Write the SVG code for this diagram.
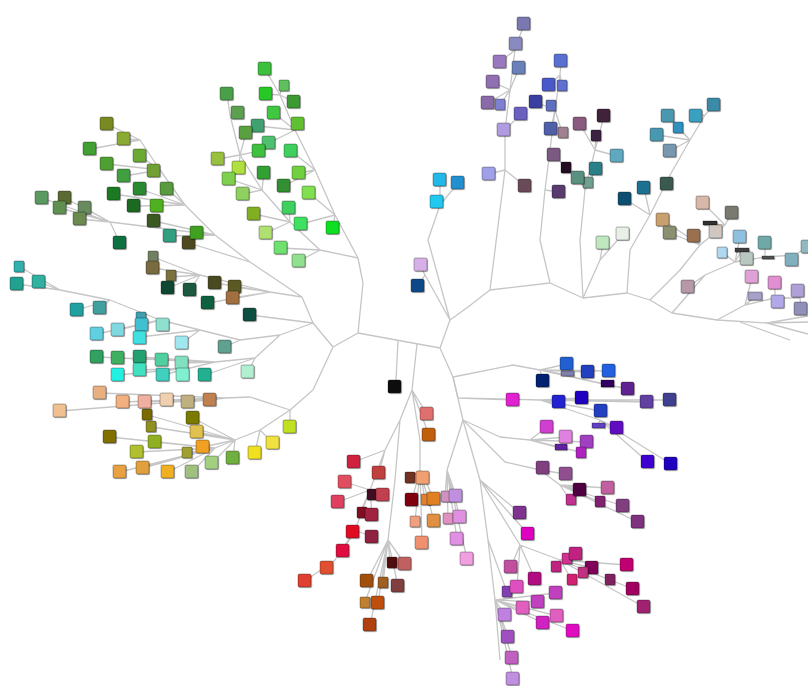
<svg xmlns="http://www.w3.org/2000/svg" xmlns:xlink="http://www.w3.org/1999/xlink" width="808" height="686" viewBox="0 0 808 686">
<style>
.c path{fill:none;stroke:#c6c6c6;stroke-width:1.3;stroke-linejoin:round}
.n use,.n rect{stroke:#000;stroke-opacity:.3;stroke-width:1;filter:url(#sh)}
</style>
<defs>
<filter id="sh" x="-30%" y="-30%" width="160%" height="160%"><feDropShadow dx="1" dy="1" stdDeviation="0.7" flood-opacity="0.3"/></filter>
<rect id="q" width="13" height="13" rx="1.5"/>
<rect id="p" width="10" height="11" rx="1"/>
</defs>
<rect width="808" height="686" fill="#fff"/>
<g id="connectors" class="c">
<path d="M358,333L440,348M358,333L363,283L358,258M358,258L335,215L315,170L295,130L280,95M358,258L320,250L290,222L262,190L240,155L230,115M358,333L333,347L313,323L302,297M333,347L313,390M302,297L250,262L215,235L185,205L160,170L140,140M215,235L110,222M302,297L270,292L200,275M313,323L280,335L240,340L200,330L160,320L110,300L60,290M280,335L255,358L215,362L190,368M313,390L290,410L250,397L225,398M290,410L260,430L235,440L215,448M440,348L450,320L468,307L490,290L550,283L583,298L627,293L650,300L672,313L717,320L767,323M490,290L495,250L500,210L505,170L505,130L510,90L515,50M550,283L540,240L545,190L550,150L555,110L560,75M583,298L580,240L585,190L595,150M440,348L453,377L463,420L480,480L488,540L495,600L500,660"/>
<path d="M280,95L265,69M280,95L266,94M280,95L282,85M280,95L294,102M230,115L227,94M230,115L238,113M295,130L274,113M295,130L258,126M295,130L298,124M295,130L269,143M240,155L246,133M240,155L259,151M240,155L218,159M240,155L239,168M315,170L291,151M315,170L299,173M315,170L284,186M262,190L264,173M262,190L229,179M262,190L243,194M335,215L309,193M335,215L301,224M335,215L333,228M290,222L289,208M290,222L254,214M290,222L266,233M320,250L281,248M320,250L299,261"/>
<path d="M140,140L107,124M140,140L124,139M140,140L90,149M160,170L140,156M160,170L107,164M160,170L124,176M160,170L154,171M185,205L114,194M185,205L140,189M185,205L167,189M185,205L134,206M185,205L157,206M110,222L42,198M110,222L65,198M110,222L60,208M110,222L85,208M110,222L80,219M110,222L120,243M215,235L154,221M215,235L170,236M215,235L197,233M250,262L189,243"/>
<path d="M200,275L153,257M200,275L153,268M200,275L170,277M200,275L168,288M200,275L190,290M270,292L215,283M270,292L235,287M270,292L233,298M270,292L208,303M313,323L250,315"/>
<path d="M60,290L20,267M60,290L17,284M60,290L39,282M110,300L77,310M110,300L100,308M160,320L97,334M160,320L118,330M160,320L142,325M160,320L163,325M200,330L140,337M200,330L182,343M240,340L225,347M215,362L97,357M215,362L118,358M215,362L140,357M215,362L162,360M215,362L182,363M190,368L118,375M190,368L140,370M190,368L163,375M190,368L183,375M255,358L205,375M255,358L248,372"/>
<path d="M225,398L100,393M225,398L60,411M225,398L123,402M225,398L145,402M225,398L167,400M225,398L188,402M225,398L210,400M290,410L290,427M260,430L273,443M260,430L255,453M235,440L233,458M235,440L212,463M235,440L197,432M235,440L203,447M235,440L148,415M235,440L193,418M235,440L152,427M215,448L192,472M215,448L168,472M215,448L143,468M215,448L120,472M215,448L187,453M215,448L137,452M215,448L155,442M215,448L110,437"/>
<path d="M515,50L524,24M515,50L516,44M515,50L500,62M510,90L519,68M510,90L493,82M510,90L488,103M510,90L500,105M505,130L521,114M505,130L504,130M505,170L489,174M505,170L525,186M560,75L561,61M560,75L549,85M560,75L562,85M555,110L536,102M555,110L550,105M555,110L551,129M555,110L562,132M550,150L554,155M550,150L566,168M545,190L559,192M595,150L580,124M595,150L604,116M595,150L596,136M595,150L617,156M585,190L578,178M585,190L588,183M585,190L596,169"/>
<path d="M450,320L428,240L440,205M440,205L440,180M440,205L458,183M440,205L437,202M450,320L425,275M425,275L420,265M425,275L418,286"/>
<path d="M627,293L630,250L650,215L670,175L690,140L705,115M705,115L714,105M705,115L696,116M690,140L668,116M690,140L678,128M690,140L657,135M690,140L670,151M670,175L667,184M650,215L644,188M650,215L625,199M583,298L600,260M600,260L603,243M600,260L623,234"/>
<path d="M650,300L680,270L700,245L725,225M700,245L694,236M700,245L716,232M700,245L670,233M700,245L663,220M725,225L703,203M725,225L732,213M725,225L710,224M672,313L705,275L735,262L765,257L795,255M705,275L688,287M735,262L740,237M735,262L723,253M735,262L742,250M735,262L747,259M765,257L765,243M765,257L768,257M795,255L792,260M795,255L807,247M717,320L745,305L775,298L800,298M745,305L752,277M745,305L755,297M775,298L775,283M775,298L778,302M800,298L798,291M800,298L801,308M767,323L808,316M767,323L808,322M767,323L808,334M740,322L790,340"/>
<path d="M453,377L513,365L540,370M540,370L567,364M540,370L567,375M540,370L588,372M540,370L609,371M540,370L543,381M540,370L608,385M540,370L628,389M453,377L458,398L540,400L600,420M458,398L513,400M540,400L559,402M540,400L582,398M540,400L601,411M540,400L647,402M540,400L670,400M600,420L617,428M600,420L597,427M600,420L648,462M600,420L671,464M463,420L500,437L530,440M530,440L547,427M530,440L566,437M530,440L587,442M530,440L560,448M530,440L580,452M463,420L505,462L540,470L560,485M540,470L543,468M540,470L566,474M560,485L580,490M560,485L570,500M560,485L600,502M560,485L608,488M560,485L623,506M560,485L638,522M480,480L520,513M480,480L528,534M480,480L520,545L560,560M560,560L556,567M560,560L567,559M560,560L576,554M560,560L592,568M560,560L572,580M560,560L583,573M560,560L610,580M560,560L627,565M560,560L633,589M560,560L644,607M520,545L511,567M520,545L535,579M520,545L517,587M488,540L507,592M495,600L505,615M495,600L508,637M495,600L512,658M495,600L513,679M495,600L523,608M495,600L538,602M495,600L556,593M495,600L543,623M495,600L557,616M495,600L573,631"/>
<path d="M417,344L412,390L400,420L385,450L370,490L355,530L335,560M398,341L396,380M412,390L427,414M412,390L429,435M385,450L354,462M385,450L379,473M370,490L345,482M370,490L338,502M370,490L370,495M370,490L383,495M370,490L360,513M370,490L372,515M355,530L353,532M355,530L372,537M355,530L343,551M335,560L327,568M335,560L305,581M412,390L420,440L420,470M420,470L410,478M420,470L423,478M420,470L412,500M420,470L425,500M420,470L434,499M420,470L415,522M420,470L434,521M420,470L422,543M463,420L447,470M447,470L445,497M447,470L456,496M447,470L448,519M447,470L460,517M447,470L457,539M447,470L467,559M400,420L395,480L388,540M388,540L390,563M388,540L405,564M388,540L367,581M388,540L383,583M388,540L398,586M388,540L365,602M388,540L378,603M388,540L370,625"/>
</g>
<g id="nodes" class="n">
<g id="bg1"><use href="#q" x="258" y="62" fill="#3cc03c"/></g>
<g id="bg2"><use href="#p" x="279" y="80" fill="#60c060"/></g>
<g id="bg3"><use href="#q" x="220" y="87" fill="#4aa04a"/></g>
<g id="bg4"><use href="#q" x="259" y="87" fill="#28c828"/></g>
<g id="bg5"><use href="#q" x="287" y="95" fill="#3a9a30"/></g>
<g id="bg6"><use href="#q" x="231" y="106" fill="#5aa050"/></g>
<g id="bg7"><use href="#q" x="267" y="106" fill="#40c840"/></g>
<g id="bg8"><use href="#q" x="251" y="119" fill="#40a070"/></g>
<g id="bg9"><use href="#q" x="291" y="117" fill="#60c030"/></g>
<g id="bg10"><use href="#q" x="239" y="126" fill="#5aa040"/></g>
<g id="bg11"><use href="#q" x="262" y="136" fill="#50c070"/></g>
<g id="bg12"><use href="#q" x="252" y="144" fill="#40c040"/></g>
<g id="bg13"><use href="#q" x="284" y="144" fill="#40d060"/></g>
<g id="bg14"><use href="#q" x="211" y="152" fill="#9ac040"/></g>
<g id="bg15"><use href="#q" x="232" y="161" fill="#b0e040"/></g>
<g id="bg16"><use href="#q" x="257" y="166" fill="#30a030"/></g>
<g id="bg17"><use href="#q" x="292" y="166" fill="#70d040"/></g>
<g id="bg18"><use href="#q" x="222" y="172" fill="#80d050"/></g>
<g id="bg19"><use href="#q" x="277" y="179" fill="#309030"/></g>
<g id="bg20"><use href="#q" x="236" y="187" fill="#90d060"/></g>
<g id="bg21"><use href="#q" x="302" y="186" fill="#80e050"/></g>
<g id="bg22"><use href="#q" x="282" y="201" fill="#40d060"/></g>
<g id="bg23"><use href="#q" x="247" y="207" fill="#80b020"/></g>
<g id="bg24"><use href="#q" x="294" y="217" fill="#40e060"/></g>
<g id="bg25"><use href="#q" x="326" y="221" fill="#10e020"/></g>
<g id="bg26"><use href="#q" x="259" y="226" fill="#b0e070"/></g>
<g id="bg27"><use href="#q" x="274" y="241" fill="#70e070"/></g>
<g id="bg28"><use href="#q" x="292" y="254" fill="#90e090"/></g>
<g id="dg1"><use href="#q" x="100" y="117" fill="#7a8a20"/></g>
<g id="dg2"><use href="#q" x="117" y="132" fill="#8aaa30"/></g>
<g id="dg3"><use href="#q" x="83" y="142" fill="#40a030"/></g>
<g id="dg4"><use href="#q" x="133" y="149" fill="#6aaa30"/></g>
<g id="dg5"><use href="#q" x="100" y="157" fill="#50a030"/></g>
<g id="dg6"><use href="#q" x="117" y="169" fill="#40a040"/></g>
<g id="dg7"><use href="#q" x="147" y="164" fill="#70a030"/></g>
<g id="dg8"><use href="#q" x="107" y="187" fill="#1a7a20"/></g>
<g id="dg9"><use href="#q" x="133" y="182" fill="#2a8a30"/></g>
<g id="dg10"><use href="#q" x="160" y="182" fill="#5a9a40"/></g>
<g id="dg11"><use href="#q" x="127" y="199" fill="#1a6a20"/></g>
<g id="dg12"><use href="#q" x="150" y="199" fill="#50b020"/></g>
<g id="dg13"><use href="#q" x="35" y="191" fill="#5a9a60"/></g>
<g id="dg14"><use href="#q" x="58" y="191" fill="#5a6a30"/></g>
<g id="dg15"><use href="#q" x="53" y="201" fill="#609050"/></g>
<g id="dg16"><use href="#q" x="78" y="201" fill="#6a8a60"/></g>
<g id="dg17"><use href="#q" x="73" y="212" fill="#6a8a50"/></g>
<g id="dg18"><use href="#q" x="147" y="214" fill="#3a5a20"/></g>
<g id="dg19"><use href="#q" x="163" y="229" fill="#30a080"/></g>
<g id="dg20"><use href="#q" x="182" y="236" fill="#504a20"/></g>
<g id="dg21"><use href="#q" x="190" y="226" fill="#40a020"/></g>
<g id="dg22"><use href="#q" x="113" y="236" fill="#107040"/></g>
<g id="ol1"><use href="#p" x="148" y="251" fill="#708060"/></g>
<g id="ol2"><use href="#q" x="146" y="261" fill="#7a6a40"/></g>
<g id="ol3"><use href="#p" x="166" y="270" fill="#7a7040"/></g>
<g id="ol4"><use href="#q" x="161" y="281" fill="#104a30"/></g>
<g id="ol5"><use href="#q" x="183" y="283" fill="#1a5a40"/></g>
<g id="ol6"><use href="#q" x="208" y="276" fill="#4a4a20"/></g>
<g id="ol7"><use href="#q" x="228" y="280" fill="#5a5a20"/></g>
<g id="ol8"><use href="#q" x="226" y="291" fill="#a07040"/></g>
<g id="ol9"><use href="#q" x="201" y="296" fill="#106040"/></g>
<g id="ol10"><use href="#q" x="243" y="308" fill="#105040"/></g>
<g id="t1"><use href="#p" x="14" y="261" fill="#30b0b0"/></g>
<g id="t2"><use href="#q" x="10" y="277" fill="#20a090"/></g>
<g id="t3"><use href="#q" x="32" y="275" fill="#30b0a0"/></g>
<g id="t4"><use href="#q" x="70" y="303" fill="#20a0a0"/></g>
<g id="t5"><use href="#q" x="93" y="301" fill="#40a0a0"/></g>
<g id="t6"><use href="#q" x="90" y="327" fill="#60d0e0"/></g>
<g id="t7"><use href="#q" x="111" y="323" fill="#80d8e0"/></g>
<g id="t8"><use href="#p" x="136" y="312" fill="#40a0b0"/></g>
<g id="t9"><use href="#q" x="135" y="318" fill="#40c0d0"/></g>
<g id="t10"><use href="#q" x="156" y="318" fill="#90e0d0"/></g>
<g id="t11"><use href="#q" x="133" y="331" fill="#40e0e0"/></g>
<g id="t12"><use href="#q" x="175" y="336" fill="#a0e8f0"/></g>
<g id="t13"><use href="#q" x="218" y="340" fill="#60a090"/></g>
<g id="t14"><use href="#q" x="90" y="350" fill="#30a060"/></g>
<g id="t15"><use href="#q" x="111" y="351" fill="#40b060"/></g>
<g id="t16"><use href="#q" x="133" y="350" fill="#20a070"/></g>
<g id="t17"><use href="#q" x="155" y="353" fill="#50d0a0"/></g>
<g id="t18"><use href="#q" x="175" y="356" fill="#80e0c0"/></g>
<g id="t19"><use href="#q" x="111" y="368" fill="#20f0e0"/></g>
<g id="t20"><use href="#q" x="133" y="363" fill="#40e0c0"/></g>
<g id="t21"><use href="#q" x="156" y="368" fill="#40d0c0"/></g>
<g id="t22"><use href="#q" x="176" y="368" fill="#80f0d0"/></g>
<g id="t23"><use href="#q" x="198" y="368" fill="#20b090"/></g>
<g id="t24"><use href="#q" x="241" y="365" fill="#b0f0d0"/></g>
<g id="o1"><use href="#q" x="93" y="386" fill="#e8b080"/></g>
<g id="o2"><use href="#q" x="53" y="404" fill="#f0c090"/></g>
<g id="o3"><use href="#q" x="116" y="395" fill="#f0b080"/></g>
<g id="o4"><use href="#q" x="138" y="395" fill="#f0b0a0"/></g>
<g id="o5"><use href="#q" x="160" y="393" fill="#f0d0b0"/></g>
<g id="o6"><use href="#q" x="181" y="395" fill="#c0b080"/></g>
<g id="o7"><use href="#q" x="203" y="393" fill="#c08050"/></g>
<g id="o8"><use href="#p" x="142" y="409" fill="#7a6a00"/></g>
<g id="o9"><use href="#q" x="186" y="411" fill="#7a7a00"/></g>
<g id="o10"><use href="#p" x="146" y="421" fill="#909020"/></g>
<g id="o11"><use href="#q" x="103" y="430" fill="#807000"/></g>
<g id="o12"><use href="#q" x="148" y="435" fill="#90b020"/></g>
<g id="o13"><use href="#q" x="190" y="425" fill="#e0c050"/></g>
<g id="o14"><use href="#q" x="130" y="445" fill="#b0c030"/></g>
<g id="o15"><use href="#p" x="182" y="447" fill="#a0a030"/></g>
<g id="o16"><use href="#q" x="196" y="440" fill="#f0a020"/></g>
<g id="o17"><use href="#q" x="226" y="451" fill="#70b040"/></g>
<g id="o18"><use href="#q" x="248" y="446" fill="#f0e020"/></g>
<g id="o19"><use href="#q" x="205" y="456" fill="#a0d080"/></g>
<g id="o20"><use href="#q" x="113" y="465" fill="#e8a040"/></g>
<g id="o21"><use href="#q" x="136" y="461" fill="#e0a040"/></g>
<g id="o22"><use href="#q" x="161" y="465" fill="#f0b020"/></g>
<g id="o23"><use href="#q" x="185" y="465" fill="#a0c080"/></g>
<g id="o24"><use href="#q" x="266" y="436" fill="#f0e040"/></g>
<g id="o25"><use href="#q" x="283" y="420" fill="#c0e020"/></g>
<g id="pt1"><use href="#q" x="517" y="17" fill="#7a78b0"/></g>
<g id="pt2"><use href="#q" x="509" y="37" fill="#8a8ac0"/></g>
<g id="pt3"><use href="#q" x="493" y="55" fill="#9a78c0"/></g>
<g id="pt4"><use href="#q" x="512" y="61" fill="#6a80b8"/></g>
<g id="pt5"><use href="#q" x="486" y="75" fill="#9070b0"/></g>
<g id="pt6"><use href="#p" x="495" y="99" fill="#8080d0"/></g>
<g id="pt7"><use href="#q" x="481" y="96" fill="#8a6aa8"/></g>
<g id="pt8"><use href="#q" x="514" y="107" fill="#6a60c0"/></g>
<g id="pt9"><use href="#q" x="497" y="123" fill="#b09ae0"/></g>
<g id="pt10"><use href="#q" x="554" y="54" fill="#5a70d0"/></g>
<g id="pt11"><use href="#p" x="557" y="80" fill="#6070d0"/></g>
<g id="pt12"><use href="#q" x="542" y="78" fill="#4a5ac8"/></g>
<g id="pt13"><use href="#p" x="546" y="100" fill="#6070c0"/></g>
<g id="pt14"><use href="#q" x="529" y="95" fill="#3a40a0"/></g>
<g id="pt15"><use href="#p" x="558" y="127" fill="#a08090"/></g>
<g id="pt16"><use href="#q" x="544" y="122" fill="#5060a8"/></g>
<g id="pt17"><use href="#q" x="482" y="167" fill="#a0a0e8"/></g>
<g id="pt18"><use href="#q" x="518" y="179" fill="#6a4a58"/></g>
<g id="pt19"><use href="#q" x="573" y="117" fill="#8a5a80"/></g>
<g id="pt20"><use href="#q" x="597" y="109" fill="#40203a"/></g>
<g id="pt21"><use href="#p" x="591" y="130" fill="#3a2040"/></g>
<g id="pt22"><use href="#q" x="547" y="148" fill="#7a5a80"/></g>
<g id="pt23"><use href="#p" x="561" y="162" fill="#200a20"/></g>
<g id="pt24"><use href="#p" x="583" y="177" fill="#70a090"/></g>
<g id="pt25"><use href="#q" x="571" y="171" fill="#5a9080"/></g>
<g id="pt26"><use href="#q" x="589" y="162" fill="#2a8088"/></g>
<g id="pt27"><use href="#q" x="552" y="185" fill="#5a3a70"/></g>
<g id="cy1"><use href="#q" x="433" y="173" fill="#20b8e8"/></g>
<g id="cy2"><use href="#q" x="451" y="176" fill="#2090d0"/></g>
<g id="cy3"><use href="#q" x="430" y="195" fill="#20c8f0"/></g>
<g id="cy4"><use href="#q" x="414" y="258" fill="#d8b0e8"/></g>
<g id="cy5"><use href="#q" x="411" y="279" fill="#104a88"/></g>
<g id="tu1"><use href="#q" x="707" y="98" fill="#3a8aa8"/></g>
<g id="tu2"><use href="#q" x="689" y="109" fill="#3aa0c0"/></g>
<g id="tu3"><use href="#q" x="661" y="109" fill="#4a98b0"/></g>
<g id="tu4"><use href="#p" x="673" y="122" fill="#3090c0"/></g>
<g id="tu5"><use href="#q" x="650" y="128" fill="#4a98b0"/></g>
<g id="tu6"><use href="#q" x="663" y="144" fill="#7898b0"/></g>
<g id="tu7"><use href="#q" x="610" y="149" fill="#60a8c0"/></g>
<g id="tu8"><use href="#q" x="660" y="177" fill="#3a5a50"/></g>
<g id="tu9"><use href="#q" x="637" y="181" fill="#1a7090"/></g>
<g id="tu10"><use href="#q" x="618" y="192" fill="#0a5070"/></g>
<g id="tu11"><use href="#q" x="596" y="236" fill="#c0e8c0"/></g>
<g id="tu12"><use href="#q" x="616" y="227" fill="#e8f0e8"/></g>
<g id="r1"><use href="#q" x="696" y="196" fill="#d8b8a8"/></g>
<g id="r2"><use href="#q" x="725" y="206" fill="#7a7a70"/></g>
<g id="r3"><rect x="703" y="221" width="14" height="4" fill="#303030"/></g>
<g id="r4"><use href="#q" x="687" y="229" fill="#9a7050"/></g>
<g id="r5"><use href="#q" x="709" y="225" fill="#d0c8c0"/></g>
<g id="r6"><use href="#q" x="656" y="213" fill="#c8a070"/></g>
<g id="r7"><use href="#q" x="663" y="226" fill="#8a9070"/></g>
<g id="r8"><use href="#q" x="733" y="230" fill="#90c0e0"/></g>
<g id="r9"><use href="#q" x="758" y="236" fill="#70a8a8"/></g>
<g id="r10"><use href="#p" x="717" y="247" fill="#b0d8f0"/></g>
<g id="r11"><rect x="735" y="248" width="14" height="4" fill="#404040"/></g>
<g id="r12"><use href="#q" x="740" y="252" fill="#b8c8c0"/></g>
<g id="r13"><rect x="762" y="256" width="12" height="3" fill="#505050"/></g>
<g id="r14"><use href="#q" x="785" y="253" fill="#80b0c0"/></g>
<g id="r15"><use href="#q" x="801" y="240" fill="#90b8c0"/></g>
<g id="r16"><use href="#q" x="681" y="280" fill="#b898a8"/></g>
<g id="r17"><use href="#q" x="745" y="270" fill="#e0a0d8"/></g>
<g id="r18"><use href="#q" x="768" y="276" fill="#e090d0"/></g>
<g id="r19"><rect x="748" y="292" width="14" height="8" fill="#a8a0c8"/></g>
<g id="r20"><use href="#q" x="771" y="295" fill="#b0a8e8"/></g>
<g id="r21"><use href="#q" x="791" y="284" fill="#b0a0d8"/></g>
<g id="r22"><use href="#q" x="794" y="302" fill="#9090b8"/></g>
<g id="bp1"><use href="#q" x="560" y="357" fill="#2060d0"/></g>
<g id="bp2"><rect x="561" y="371" width="13" height="5" fill="#8080b0"/></g>
<g id="bp3"><use href="#q" x="581" y="365" fill="#2040c0"/></g>
<g id="bp4"><use href="#q" x="602" y="364" fill="#2060e0"/></g>
<g id="bp5"><use href="#q" x="536" y="374" fill="#002070"/></g>
<g id="bp6"><rect x="601" y="380" width="13" height="7" fill="#300060"/></g>
<g id="bp7"><use href="#q" x="621" y="382" fill="#602090"/></g>
<g id="bp8"><use href="#q" x="506" y="393" fill="#e020d0"/></g>
<g id="bp9"><use href="#q" x="552" y="395" fill="#2020d0"/></g>
<g id="bp10"><use href="#q" x="575" y="391" fill="#2000c0"/></g>
<g id="bp11"><use href="#q" x="594" y="404" fill="#2040c0"/></g>
<g id="bp12"><use href="#q" x="640" y="395" fill="#6040a0"/></g>
<g id="bp13"><use href="#q" x="663" y="393" fill="#404090"/></g>
<g id="bp14"><rect x="592" y="423" width="13" height="5" fill="#6040c0"/></g>
<g id="bp15"><use href="#q" x="540" y="420" fill="#d040d0"/></g>
<g id="bp16"><use href="#q" x="559" y="430" fill="#e080e0"/></g>
<g id="bp17"><use href="#q" x="580" y="435" fill="#a040c0"/></g>
<g id="bp18"><use href="#q" x="610" y="421" fill="#6010c0"/></g>
<g id="bp19"><rect x="555" y="444" width="12" height="6" fill="#6020a0"/></g>
<g id="bp20"><use href="#p" x="576" y="447" fill="#b020c0"/></g>
<g id="bp21"><use href="#q" x="641" y="455" fill="#4000d0"/></g>
<g id="bp22"><use href="#q" x="664" y="457" fill="#2000c0"/></g>
<g id="bp23"><use href="#q" x="536" y="461" fill="#804080"/></g>
<g id="bp24"><use href="#q" x="559" y="467" fill="#905090"/></g>
<g id="bp25"><use href="#p" x="566" y="494" fill="#c03090"/></g>
<g id="bp26"><use href="#q" x="573" y="483" fill="#500040"/></g>
<g id="bp27"><use href="#p" x="595" y="496" fill="#802070"/></g>
<g id="bp28"><use href="#q" x="601" y="481" fill="#c060a0"/></g>
<g id="bp29"><use href="#q" x="616" y="499" fill="#804080"/></g>
<g id="bp30"><use href="#q" x="631" y="515" fill="#803080"/></g>
<g id="bp31"><use href="#q" x="513" y="506" fill="#803090"/></g>
<g id="bp32"><use href="#q" x="521" y="527" fill="#e000c0"/></g>
<g id="m1"><use href="#q" x="504" y="560" fill="#c050a0"/></g>
<g id="m2"><use href="#p" x="502" y="586" fill="#8040b0"/></g>
<g id="m3"><use href="#q" x="510" y="580" fill="#e050c0"/></g>
<g id="m4"><use href="#q" x="528" y="572" fill="#b01080"/></g>
<g id="m5"><use href="#p" x="551" y="561" fill="#c02080"/></g>
<g id="m6"><use href="#p" x="562" y="553" fill="#d03090"/></g>
<g id="m7"><use href="#q" x="569" y="547" fill="#c02080"/></g>
<g id="m8"><use href="#q" x="585" y="561" fill="#80005a"/></g>
<g id="m9"><use href="#p" x="567" y="574" fill="#d02070"/></g>
<g id="m10"><use href="#p" x="578" y="567" fill="#c03080"/></g>
<g id="m11"><use href="#p" x="605" y="574" fill="#802060"/></g>
<g id="m12"><use href="#q" x="620" y="558" fill="#c00070"/></g>
<g id="m13"><use href="#q" x="626" y="582" fill="#a00060"/></g>
<g id="m14"><use href="#q" x="637" y="600" fill="#a02070"/></g>
<g id="m15"><use href="#q" x="531" y="595" fill="#c040c0"/></g>
<g id="m16"><use href="#q" x="549" y="586" fill="#c040c0"/></g>
<g id="m17"><use href="#q" x="516" y="601" fill="#e060c0"/></g>
<g id="m18"><use href="#q" x="498" y="608" fill="#c080e0"/></g>
<g id="m19"><use href="#q" x="536" y="616" fill="#d020c0"/></g>
<g id="m20"><use href="#q" x="550" y="609" fill="#e060c0"/></g>
<g id="m21"><use href="#q" x="566" y="624" fill="#e010c0"/></g>
<g id="m22"><use href="#q" x="501" y="630" fill="#a050c0"/></g>
<g id="m23"><use href="#q" x="505" y="651" fill="#c060c0"/></g>
<g id="m24"><use href="#q" x="506" y="672" fill="#c090e0"/></g>
<g id="k0"><use href="#q" x="388" y="380" fill="#101010"/></g>
<g id="k1"><use href="#q" x="420" y="407" fill="#e07070"/></g>
<g id="k2"><use href="#q" x="422" y="428" fill="#c06010"/></g>
<g id="k3"><use href="#q" x="347" y="455" fill="#d02040"/></g>
<g id="k4"><use href="#q" x="372" y="466" fill="#c04040"/></g>
<g id="k5"><use href="#q" x="338" y="475" fill="#e05060"/></g>
<g id="k6"><use href="#q" x="331" y="495" fill="#e04060"/></g>
<g id="k7"><use href="#p" x="405" y="472" fill="#703020"/></g>
<g id="k8"><use href="#q" x="416" y="471" fill="#f0a070"/></g>
<g id="k9"><use href="#p" x="367" y="489" fill="#401020"/></g>
<g id="k10"><use href="#q" x="376" y="488" fill="#c04050"/></g>
<g id="k11"><use href="#q" x="405" y="493" fill="#800010"/></g>
<g id="k12"><use href="#p" x="421" y="494" fill="#e08030"/></g>
<g id="k13"><use href="#q" x="427" y="492" fill="#e08020"/></g>
<g id="k14"><use href="#p" x="441" y="491" fill="#d090c0"/></g>
<g id="k15"><use href="#q" x="449" y="489" fill="#c090e0"/></g>
<g id="k16"><use href="#p" x="357" y="507" fill="#801020"/></g>
<g id="k17"><use href="#q" x="365" y="508" fill="#a02040"/></g>
<g id="k18"><use href="#p" x="410" y="516" fill="#f0a080"/></g>
<g id="k19"><use href="#q" x="427" y="514" fill="#e09040"/></g>
<g id="k20"><use href="#p" x="443" y="513" fill="#e090c0"/></g>
<g id="k21"><use href="#q" x="453" y="510" fill="#e090e0"/></g>
<g id="k22"><use href="#q" x="346" y="525" fill="#e01020"/></g>
<g id="k23"><use href="#q" x="365" y="530" fill="#902040"/></g>
<g id="k24"><use href="#q" x="450" y="532" fill="#e090e0"/></g>
<g id="k25"><use href="#q" x="415" y="536" fill="#f09070"/></g>
<g id="k26"><use href="#q" x="336" y="544" fill="#e01040"/></g>
<g id="k27"><use href="#q" x="460" y="552" fill="#f0a0e0"/></g>
<g id="k28"><use href="#q" x="320" y="561" fill="#e05030"/></g>
<g id="k29"><use href="#p" x="387" y="557" fill="#501010"/></g>
<g id="k30"><use href="#q" x="398" y="557" fill="#c06060"/></g>
<g id="k31"><use href="#q" x="298" y="574" fill="#e04030"/></g>
<g id="k32"><use href="#q" x="360" y="574" fill="#a05010"/></g>
<g id="k33"><use href="#p" x="378" y="577" fill="#a06020"/></g>
<g id="k34"><use href="#q" x="391" y="579" fill="#804040"/></g>
<g id="k35"><use href="#p" x="360" y="597" fill="#c08030"/></g>
<g id="k36"><use href="#q" x="371" y="596" fill="#c05010"/></g>
<g id="k37"><use href="#q" x="363" y="618" fill="#b04010"/></g>
</g>
</svg>
